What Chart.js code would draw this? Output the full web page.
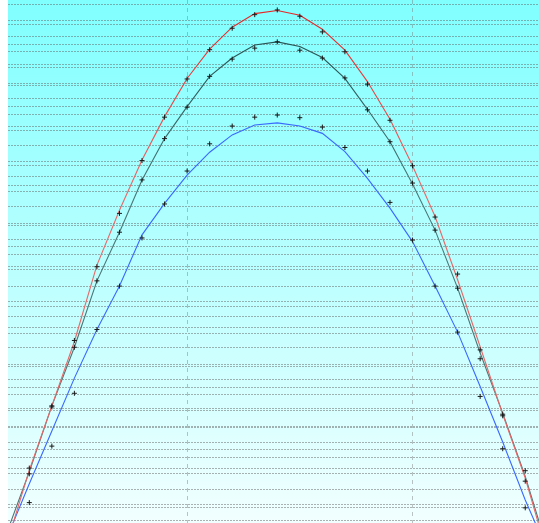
<!DOCTYPE html>
<html>
<head>
<meta charset="utf-8">
<script src="https://cdn.jsdelivr.net/npm/chart.js@4.4.0/dist/chart.umd.min.js"></script>
<style>
  html, body { margin: 0; padding: 0; background: #fff; }
  #wrap { width: 539px; height: 523px; }
</style>
</head>
<body>
<div id="wrap"><canvas id="curveChart" width="539" height="523"></canvas></div>
<script>
// sample positions (markers) and the fitted curve positions
var sampleX = [3, 4, 5, 6, 7, 8, 9, 10, 11, 12, 13, 14, 15, 16, 17, 18, 19, 20, 21, 22, 23, 24, 25];
var curveX  = [2, 3, 4, 5, 6, 7, 8, 9, 10, 11, 12, 13, 14, 15, 16, 17, 18, 19, 20, 21, 22, 23, 24, 25, 26];

// measured samples
var redSamples   = [10.5, 22.4, 34.9, 49.0, 59.2, 69.3, 77.6, 84.9, 90.5, 94.6, 97.2, 98.1, 96.9, 93.9, 90.1, 83.9, 77.0, 68.3, 58.5, 47.6, 33.1, 20.8, 10.0];
var greenSamples = [9.4, 22.2, 33.6, 46.3, 55.6, 65.6, 73.5, 79.5, 85.4, 88.7, 90.8, 92.0, 90.4, 88.9, 85.1, 79.0, 72.9, 65.0, 56.0, 44.9, 31.4, 20.5, 8.0];
var blueSamples  = [3.9, 14.7, 24.8, 37.0, 45.3, 54.5, 61.0, 67.3, 72.5, 75.9, 77.6, 78.0, 77.5, 75.7, 71.8, 67.3, 61.3, 54.1, 45.3, 36.5, 24.2, 14.2, 2.9];

// fitted curves
var redCurve   = [-4.0, 10.1, 22.4, 34.7, 49.3, 59.8, 69.4, 77.7, 85.0, 90.6, 94.8, 97.4, 98.0, 97.1, 94.4, 90.4, 84.4, 77.2, 68.3, 58.6, 46.5, 33.7, 20.8, 8.6, -6.3];
var greenCurve = [-1.9, 9.8, 22.4, 33.6, 46.3, 55.6, 65.6, 73.5, 79.6, 85.4, 88.9, 91.4, 92.0, 91.1, 89.0, 85.0, 79.1, 72.9, 64.8, 56.0, 44.9, 32.5, 21.0, 8.9, -5.2];
var blueCurve  = [-2.9, 7.5, 17.6, 27.7, 37.0, 45.3, 55.1, 61.1, 66.5, 70.9, 74.2, 76.1, 76.5, 75.9, 74.5, 71.0, 65.9, 60.2, 53.8, 45.3, 36.5, 26.1, 15.5, 4.4, -5.5];

// grid positions
var xGrid = [10, 20];
var yGrid = [99.1, 96.0, 95.3, 93.1, 91.5, 90.1, 87.6, 87.1, 84.1, 83.6, 81.1, 79.7, 78.1, 75.9, 75.1,
             72.1, 69.1, 68.3, 66.3, 64.5, 63.3, 60.6, 57.3, 56.8, 54.3, 52.8, 51.3, 49.0, 48.4, 45.3,
             42.4, 41.4, 39.4, 37.4, 36.3, 33.6, 30.3, 29.9, 27.5, 26.0, 24.5, 21.9, 21.5, 18.5, 18.2,
             15.4, 14.1, 12.5, 10.5, 9.5, 6.5, 3.5, 2.9, 0.5];

function pts(xv, yv) {
    return xv.map(function(x, i) { return { x: x, y: yv[i] }; });
}

function markerSet(values) {
    return {
        data: pts(sampleX, values),
        showLine: false,
        pointStyle: 'cross',
        pointRadius: 2.5,
        pointBorderWidth: 1,
        pointBorderColor: '#1a1a1a',
        pointBackgroundColor: '#1a1a1a'
    };
}

// lines fade a little towards the bottom, like the original
function fade(top, bottom) {
    return function(context) {
        var a = context.chart.chartArea;
        if (!a) return top;
        var g = context.chart.ctx.createLinearGradient(0, a.top, 0, a.bottom);
        g.addColorStop(0, top);
        g.addColorStop(0.35, bottom);
        g.addColorStop(1, bottom);
        return g;
    };
}

function curveSet(values, color) {
    return {
        data: pts(curveX, values),
        showLine: true,
        borderColor: color,
        borderWidth: 1.1,
        pointRadius: 0,
        tension: 0
    };
}

var bgPlugin = {
    id: 'bgGradient',
    beforeDraw: function(chart) {
        var a = chart.chartArea, ctx = chart.ctx;
        var g = ctx.createLinearGradient(0, a.top, 0, a.bottom);
        g.addColorStop(0, '#80ffff');
        g.addColorStop(1, '#f2ffff');
        ctx.save();
        ctx.fillStyle = g;
        ctx.fillRect(a.left, a.top, a.right - a.left, a.bottom - a.top);
        ctx.restore();
    }
};

var ctx = document.getElementById('curveChart').getContext('2d');
var curveChart = new Chart(ctx, {
    type: 'scatter',
    data: {
        datasets: [
            markerSet(redSamples),
            markerSet(greenSamples),
            markerSet(blueSamples),
            curveSet(redCurve, fade('#e82020', '#e86868')),
            curveSet(greenCurve, fade('#1e4848', '#4a7676')),
            curveSet(blueCurve, '#3a68ff')
        ]
    },
    options: {
        responsive: false,
        animation: false,
        layout: { autoPadding: false, padding: { left: 8, top: 0, right: 0, bottom: 0 } },
        plugins: { legend: { display: false }, tooltip: { enabled: false } },
        scales: {
            x: {
                type: 'linear',
                min: 2.055,
                max: 25.61,
                afterBuildTicks: function(s) { s.ticks = xGrid.map(function(v) { return { value: v }; }); },
                afterFit: function(s) { s.height = 0; },
                ticks: { display: false },
                grid: { color: 'rgba(120,120,120,0.45)', drawTicks: false },
                border: { display: false, dash: [4, 4] }
            },
            y: {
                type: 'linear',
                min: 0,
                max: 100,
                afterBuildTicks: function(s) { s.ticks = yGrid.map(function(v) { return { value: v }; }); },
                afterFit: function(s) { s.width = 0; },
                ticks: { display: false },
                grid: { color: 'rgba(100,100,100,0.5)', drawTicks: false },
                border: { display: false, dash: [2, 1] }
            }
        }
    },
    plugins: [bgPlugin]
});
</script>
</body>
</html>
